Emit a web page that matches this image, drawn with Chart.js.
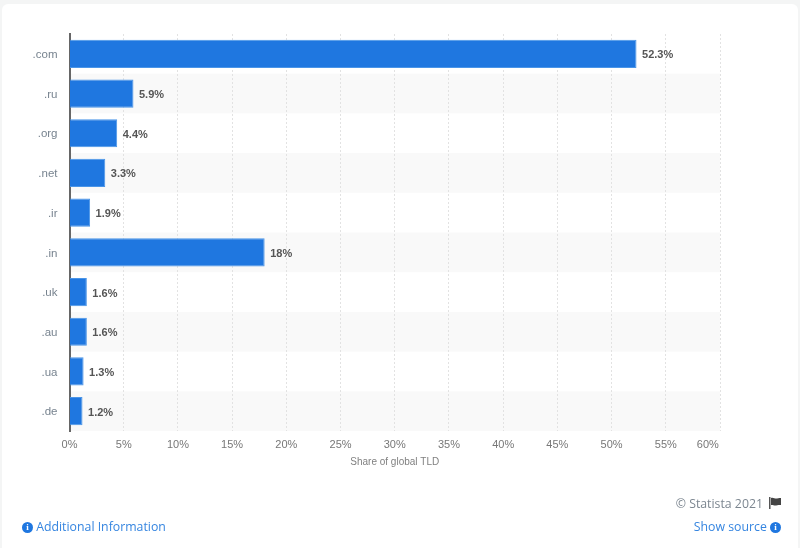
<!DOCTYPE html>
<html>
<head>
<meta charset="utf-8">
<script src="https://cdn.jsdelivr.net/npm/chart.js@4"></script>
<style>
    html, body { margin: 0; padding: 0; width: 800px; height: 548px; overflow: hidden; background: #f4f5f5; }
    #carte { position: absolute; left: 2px; top: 4px; width: 796px; height: 544px; background: #fff; border-radius: 6px 6px 0 0; }
    #graphique { position: absolute; left: 0; top: 0; }
    .bas { position: absolute; font: 12.3px "Open Sans", sans-serif; color: #3585e0; white-space: nowrap; }
    .gris { color: #7c8690; }
    .rond { display: inline-block; width: 11px; height: 11px; line-height: 11px; border-radius: 50%; background: #1f77e0; color: #fff; font: bold 9px/11px "Liberation Serif", serif; text-align: center; vertical-align: 1px; }
</style>
</head>
<body>
<div id="carte"></div>
<canvas id="graphique" width="800" height="548"></canvas>
<div class="bas" style="left:22px;top:518px"><span class="rond">i</span> Additional Information</div>
<div class="bas" style="right:19px;top:518px"><span>Show source</span> <span class="rond">i</span></div>
<div class="bas gris" style="right:37px;top:495px">© Statista 2021</div>
<svg style="position:absolute;left:769px;top:497px" width="13" height="12" viewBox="0 0 13 12">
    <rect x="0" y="0" width="1.5" height="12" fill="#555"/>
    <path d="M2 1 C4 0 6 2 8 1.5 C10 1 11 1 12 1 L12 8 C10 8 9 8 7 8.5 C5 9 4 7.5 2 8 Z" fill="#444"/>
</svg>
<script>
const categories = ['.com', '.ru', '.org', '.net', '.ir', '.in', '.uk', '.au', '.ua', '.de'];
const valeurs = [52.3, 5.9, 4.4, 3.3, 1.9, 18, 1.6, 1.6, 1.3, 1.2];
const ticksX = [0, 5, 10, 15, 20, 25, 30, 35, 40, 45, 50, 55, 60];

// Bandes grises une ligne sur deux
const bandes = {
    id: 'bandes',
    beforeDraw(chart) {
        const { ctx, chartArea, scales } = chart;
        const h = chartArea.height / categories.length;
        ctx.save();
        ctx.fillStyle = '#f9f9f9';
        categories.forEach((c, i) => {
            if (i % 2 === 1) {
                ctx.fillRect(chartArea.left, scales.y.getPixelForValue(i) - h / 2, chartArea.width, h);
            }
        });
        ctx.restore();
    }
};

// Valeurs au bout des barres
const etiquettes = {
    id: 'etiquettes',
    afterDatasetsDraw(chart) {
        const { ctx } = chart;
        ctx.save();
        ctx.font = 'bold 11px "Liberation Sans", Arial, sans-serif';
        ctx.fillStyle = '#555';
        ctx.textAlign = 'left';
        ctx.textBaseline = 'middle';
        chart.getDatasetMeta(0).data.forEach((barre, i) => {
            ctx.fillText(valeurs[i] + '%', barre.x + 5.5, barre.y + 1.5);
        });
        ctx.restore();
    }
};

new Chart(document.getElementById('graphique').getContext('2d'), {
    type: 'bar',
    data: {
        labels: categories,
        datasets: [{
            data: valeurs,
            backgroundColor: '#1f77e0',
            borderColor: '#4a95e8',
            borderWidth: 1,
            categoryPercentage: 1,
            barPercentage: 0.71
        }]
    },
    plugins: [bandes, etiquettes],
    options: {
        indexAxis: 'y',
        responsive: false,
        animation: false,
        layout: { padding: { top: 34, right: 80, bottom: 72, left: 0 } },
        plugins: { legend: { display: false }, tooltip: { enabled: false } },
        scales: {
            x: {
                min: 0,
                max: 60,
                afterBuildTicks(scale) {
                    scale.ticks = ticksX.map(v => ({ value: v }));
                },
                afterFit(scale) { scale.height = 45; },
                grid: { color: '#e2e2e2', drawTicks: false, lineWidth: 1 },
                border: { display: false, dash: [2, 2] },
                ticks: {
                    maxRotation: 0,
                    autoSkip: false,
                    padding: 7,
                    color: '#777',
                    font: { family: '"Liberation Sans", Arial, sans-serif', size: 11 },
                    // le dernier libellé est décalé vers la gauche dans l'original
                    callback: v => v === 60 ? v + '%        ' : v + '%'
                },
                title: {
                    display: true,
                    text: 'Share of global TLD',
                    color: '#808080',
                    font: { family: '"Liberation Sans", Arial, sans-serif', size: 10 },
                    padding: { top: 0, bottom: 8 }
                }
            },
            y: {
                afterFit(scale) { scale.width = 69.5; },
                grid: { display: false, drawTicks: false },
                border: { color: '#666', width: 2 },
                ticks: {
                    padding: 12,
                    labelOffset: 1,
                    color: '#77838f',
                    font: { family: '"Liberation Sans", Arial, sans-serif', size: 11.5 }
                }
            }
        }
    }
});
</script>
</body>
</html>
